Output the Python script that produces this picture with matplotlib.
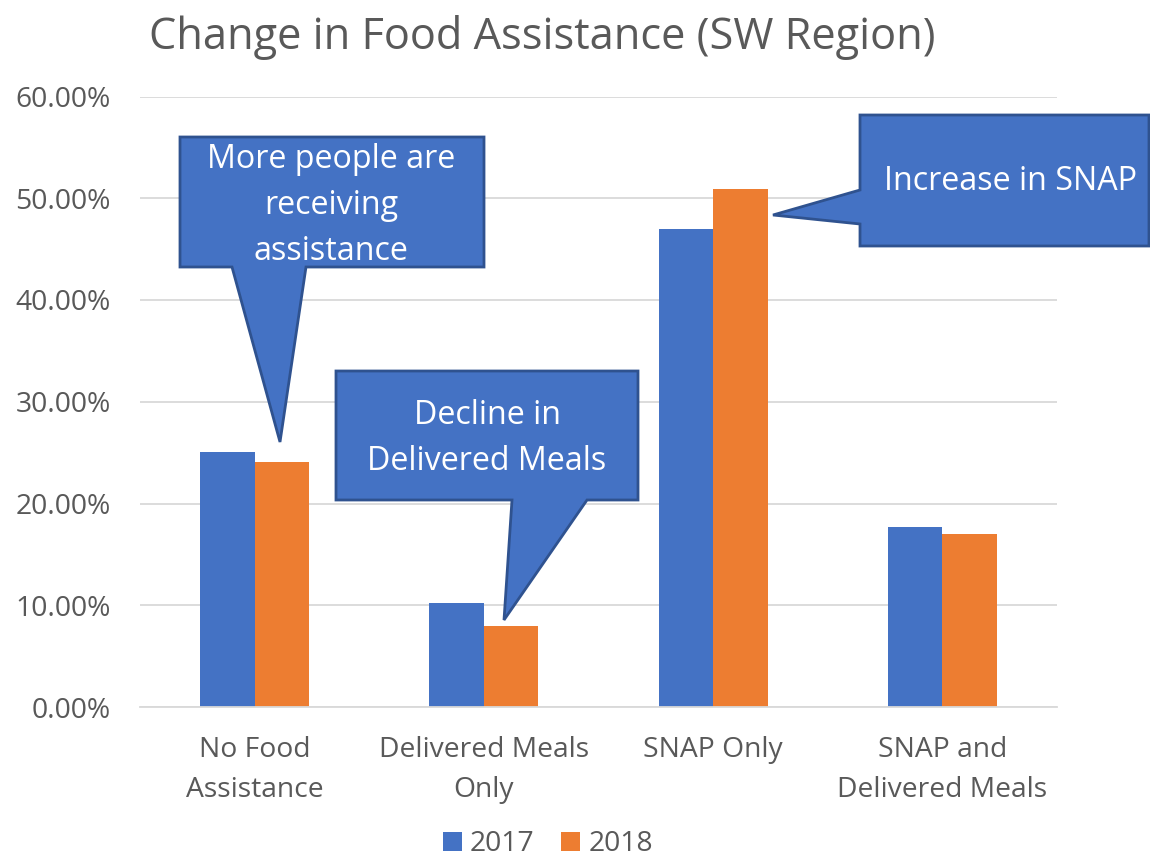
import matplotlib
matplotlib.use("Agg")
import matplotlib.pyplot as plt
from matplotlib.patches import Polygon
import numpy as np

categories = ["No Food\nAssistance", "Delivered Meals\nOnly", "SNAP Only", "SNAP and\nDelivered Meals"]
series_names = ["2017", "2018"]
values_2017 = [0.2508, 0.1019, 0.4695, 0.1771]
values_2018 = [0.2410, 0.0799, 0.5086, 0.1700]
yticks = [0.0, 0.1, 0.2, 0.3, 0.4, 0.5, 0.6]
ytick_labels = ["0.00%", "10.00%", "20.00%", "30.00%", "40.00%", "50.00%", "60.00%"]
title = "Change in Food Assistance (SW Region)"
callout_texts = ["More people are\nreceiving\nassistance", "Decline in\nDelivered Meals", "Increase in SNAP"]

C_BLUE = "#4472C4"
C_ORANGE = "#ED7D31"
C_EDGE = "#2F528F"
C_TEXT = "#595959"
C_GRID = "#D9D9D9"

plt.rcParams['font.family'] = ['Open Sans', 'DejaVu Sans']

W, H = 1150, 860
fig = plt.figure(figsize=(W / 100, H / 100), dpi=100)

def fx(px):
    return px / W

def fy(py):
    return 1 - py / H

ax_left, ax_right, ax_top, ax_bottom = 140, 1057, 96.5, 707
ax = fig.add_axes([fx(ax_left), fy(ax_bottom), fx(ax_right - ax_left), (ax_bottom - ax_top) / H])

x = np.arange(len(categories))
bw = 0.238
ax.bar(x - bw / 2, values_2017, bw, color=C_BLUE, label=series_names[0], zorder=2)
ax.bar(x + bw / 2, values_2018, bw, color=C_ORANGE, label=series_names[1], zorder=2)

ax.set_xlim(-0.5, len(categories) - 0.5)
ax.set_ylim(0, 0.6)
ax.set_yticks(yticks)
ax.set_yticklabels(ytick_labels)
ax.set_xticks(x)
ax.set_xticklabels(categories, linespacing=1.55)
ax.yaxis.grid(True, color=C_GRID, linewidth=1.3, zorder=0)
ax.set_axisbelow(True)
for s in ["top", "right", "left"]:
    ax.spines[s].set_visible(False)
ax.spines["bottom"].set_color(C_GRID)
ax.spines["bottom"].set_linewidth(1.3)
ax.tick_params(axis="both", length=0, labelsize=20.3, colors=C_TEXT)
ax.tick_params(axis="y", pad=21)
ax.tick_params(axis="x", pad=21)
for lab in ax.get_yticklabels():
    lab.set_horizontalalignment("right")

fig.text(fx(542), fy(38), title, ha="center", va="center", fontsize=31.2, color=C_TEXT)

leg = fig.legend(loc="center", bbox_to_anchor=(fx(548), fy(844)), ncol=2, frameon=False,
                 fontsize=20.3, handlelength=0.65, handleheight=0.65, handletextpad=0.3,
                 columnspacing=0.95, borderpad=0)
for t in leg.get_texts():
    t.set_color(C_TEXT)

def callout(pts, text_xy, text):
    poly = Polygon([(fx(a), fy(b)) for a, b in pts], closed=True, transform=fig.transFigure,
                   facecolor=C_BLUE, edgecolor=C_EDGE, linewidth=2, zorder=5, clip_on=False)
    fig.add_artist(poly)
    fig.text(fx(text_xy[0]), fy(text_xy[1]), text, ha="center", va="center", color="white",
             fontsize=23.2, linespacing=1.52, zorder=6)

callout([(180, 137), (484, 137), (484, 267), (306, 267), (280, 442), (232, 267), (180, 267)],
        (331, 205), callout_texts[0])
callout([(336, 371), (638, 371), (638, 500), (587, 500), (504, 620), (512, 500), (336, 500)],
        (487, 438), callout_texts[1])
callout([(860, 115), (1149, 115), (1149, 246), (860, 246), (860, 224), (773, 215), (860, 190)],
        (1011, 182), callout_texts[2])

fig.savefig("out.png", dpi=100)
